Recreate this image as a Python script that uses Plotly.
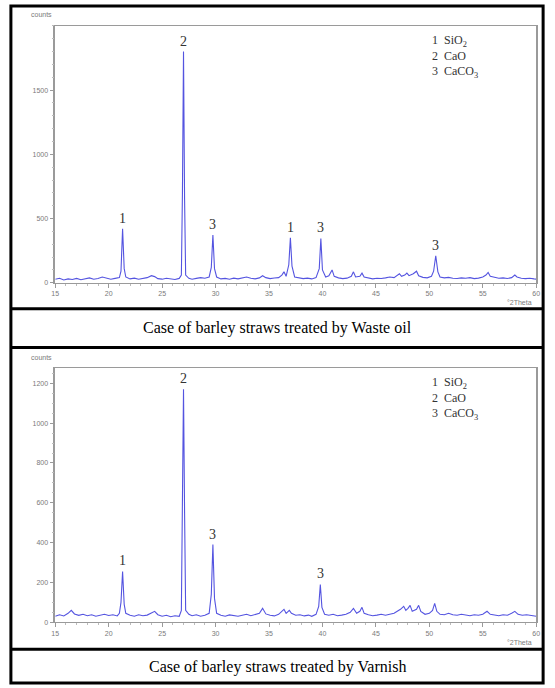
import plotly.graph_objects as go

W, H = 555, 688

# ---------------- data ----------------
theta1 = [15.0, 15.4, 15.8, 16.2, 16.6, 17.0, 17.4, 17.8, 18.2, 18.6, 19.0, 19.4, 19.8, 20.2, 20.6, 21.0,
          21.15, 21.3, 21.45, 21.6, 22.0, 22.4, 22.8, 23.2, 23.6, 24.0, 24.3, 24.6, 25.0, 25.4, 25.8, 26.2,
          26.6, 26.8, 26.9, 27.0, 27.1, 27.2, 27.5, 27.8, 28.2, 28.6, 29.0, 29.4, 29.6, 29.75, 29.9, 30.1,
          30.5, 30.9, 31.3, 31.7, 32.1, 32.5, 32.9, 33.3, 33.7, 34.1, 34.4, 34.7, 35.1, 35.5, 35.9, 36.2,
          36.4, 36.6, 36.85, 37.0, 37.15, 37.4, 37.8, 38.2, 38.6, 39.0, 39.4, 39.7, 39.85, 40.0, 40.3, 40.6,
          40.9, 41.1, 41.5, 41.9, 42.3, 42.7, 42.9, 43.1, 43.5, 43.7, 43.9, 44.3, 44.7, 45.1, 45.5, 45.9,
          46.3, 46.7, 47.0, 47.2, 47.4, 47.7, 47.9, 48.1, 48.5, 48.8, 49.0, 49.4, 49.8, 50.2, 50.4, 50.6,
          50.8, 51.0, 51.4, 51.8, 52.2, 52.6, 53.0, 53.4, 53.8, 54.2, 54.6, 55.0, 55.3, 55.5, 55.7, 56.1,
          56.5, 56.9, 57.3, 57.7, 58.0, 58.2, 58.6, 59.0, 59.4, 59.8, 60.0]
counts1 = [28, 35, 22, 30, 26, 34, 24, 30, 38, 27, 33, 45, 36, 28, 34, 40,
           90, 420, 110, 45, 30, 36, 27, 33, 40, 55, 48, 32, 28, 35, 30, 26,
           34, 60, 700, 1800, 650, 60, 35, 28, 34, 40, 35, 45, 120, 372, 110, 45,
           30, 34, 28, 36, 30, 38, 45, 35, 30, 38, 55, 40, 32, 37, 40, 60,
           85, 50, 140, 350, 130, 45, 38, 32, 36, 30, 40, 110, 345, 100, 45, 55,
           100, 50, 38, 32, 36, 50, 85, 45, 50, 75, 45, 36, 30, 35, 33, 38,
           45, 40, 55, 70, 50, 60, 75, 55, 70, 90, 55, 42, 38, 50, 90, 210,
           85, 45, 38, 42, 35, 33, 38, 35, 40, 32, 36, 45, 60, 80, 50, 40,
           35, 38, 33, 40, 60, 45, 35, 32, 35, 30, 28]

theta2 = [15.0, 15.4, 15.8, 16.2, 16.5, 16.8, 17.2, 17.6, 18.0, 18.4, 18.8, 19.2, 19.6, 20.0, 20.4, 20.8,
          21.0, 21.15, 21.3, 21.45, 21.6, 22.0, 22.4, 22.8, 23.2, 23.6, 24.0, 24.3, 24.6, 25.0, 25.4, 25.8,
          26.2, 26.6, 26.8, 26.9, 27.0, 27.1, 27.2, 27.5, 27.8, 28.2, 28.6, 29.0, 29.4, 29.6, 29.75, 29.9,
          30.1, 30.5, 30.9, 31.3, 31.7, 32.1, 32.5, 32.9, 33.3, 33.7, 34.1, 34.4, 34.7, 35.1, 35.5, 35.9,
          36.2, 36.4, 36.6, 36.9, 37.1, 37.5, 37.9, 38.3, 38.7, 39.0, 39.4, 39.65, 39.8, 39.95, 40.2, 40.6,
          41.0, 41.4, 41.8, 42.2, 42.6, 42.9, 43.2, 43.5, 43.7, 43.9, 44.3, 44.7, 45.1, 45.5, 45.9, 46.3,
          46.7, 47.0, 47.3, 47.6, 47.8, 48.0, 48.2, 48.4, 48.8, 49.0, 49.2, 49.6, 50.0, 50.3, 50.5, 50.7,
          51.0, 51.4, 51.8, 52.2, 52.6, 53.0, 53.4, 53.8, 54.2, 54.6, 55.0, 55.4, 55.7, 56.1, 56.5, 56.9,
          57.3, 57.7, 58.0, 58.3, 58.7, 59.1, 59.5, 60.0]
counts2 = [30, 38, 32, 45, 60, 42, 35, 40, 33, 38, 30, 36, 40, 34, 38, 32,
           45, 100, 255, 90, 45, 35, 30, 38, 33, 36, 45, 55, 38, 30, 35, 28,
           33, 30, 60, 600, 1170, 550, 60, 40, 33, 38, 30, 35, 45, 140, 390, 120,
           45, 35, 30, 37, 32, 30, 35, 40, 33, 38, 45, 70, 42, 35, 32, 40,
           55, 65, 45, 60, 45, 35, 38, 32, 36, 30, 40, 80, 190, 75, 40, 35,
           40, 33, 36, 40, 50, 70, 45, 55, 75, 45, 38, 33, 36, 40, 35, 40,
           45, 55, 65, 80, 60, 70, 85, 55, 65, 85, 55, 40, 45, 60, 95, 55,
           40, 38, 45, 38, 35, 40, 36, 33, 38, 35, 40, 55, 40, 36, 33, 38,
           35, 45, 55, 40, 35, 38, 33, 30]

peaks1_x = [21.3, 27.0, 29.75, 37.0, 39.85, 50.6]
peaks1_lbl = ["1", "2", "3", "1", "3", "3"]
peaks2_x = [21.3, 27.0, 29.75, 39.8]
peaks2_lbl = ["1", "2", "3", "3"]

xticks = [15, 20, 25, 30, 35, 40, 45, 50, 55, 60]
yticks1 = [0, 500, 1000, 1500]
yticks2 = [0, 200, 400, 600, 800, 1000, 1200]

legend_nums = ["1", "2", "3"]
legend_names = ["SiO<sub>2</sub>", "CaO", "CaCO<sub>3</sub>"]

captions = ["Case of barley straws treated by Waste oil",
            "Case of barley straws treated by Varnish"]

# ---------------- helpers ----------------
def px(x):
    return x / W

def py(y):
    return 1 - y / H

LINE = "#5454e0"
AX = "#9a9a9a"
TXT = "#7a7a7a"
SERIF = "Liberation Serif, Times New Roman, serif"

fig = go.Figure()
fig.add_trace(go.Scatter(x=theta1, y=counts1, mode="lines", line=dict(color=LINE, width=1.1),
                         xaxis="x", yaxis="y", showlegend=False, hoverinfo="skip"))
fig.add_trace(go.Scatter(x=theta2, y=counts2, mode="lines", line=dict(color=LINE, width=1.1),
                         xaxis="x2", yaxis="y2", showlegend=False, hoverinfo="skip"))

panels = [
    dict(top=26, bot=284, yrange=[0, 2000], ytv=yticks1, ymin=100),
    dict(top=370, bot=625, yrange=[0, 1275], ytv=yticks2, ymin=50),
]

xdom = [px(52), px(540)]

def xaxis_def(anchor):
    return dict(domain=xdom, range=[15, 60], anchor=anchor, showgrid=False, zeroline=False,
                tickvals=xticks, ticktext=[str(t) for t in xticks], ticks="outside", ticklen=4,
                tickcolor=AX, tickfont=dict(size=7, color=TXT, family="Arial"),
                showline=True, linecolor=AX, linewidth=1, mirror=True,
                minor=dict(dtick=1, ticklen=2, tickcolor="#bbbbbb", ticks="outside"))

def yaxis_def(p, anchor):
    return dict(domain=[py(p["bot"]), py(p["top"])], range=p["yrange"], anchor=anchor,
                showgrid=False, zeroline=False, tickvals=p["ytv"],
                ticktext=[str(t) for t in p["ytv"]], ticks="outside", ticklen=4,
                tickcolor=AX, tickfont=dict(size=7, color=TXT, family="Arial"),
                showline=True, linecolor=AX, linewidth=1.5, mirror=True,
                minor=dict(dtick=p["ymin"], ticklen=2, tickcolor="#bbbbbb", ticks="outside"))

fig.update_layout(
    width=W, height=H, margin=dict(l=0, r=0, t=0, b=0),
    paper_bgcolor="white", plot_bgcolor="white",
    xaxis=xaxis_def("y"), yaxis=yaxis_def(panels[0], "x"),
    xaxis2=xaxis_def("y2"), yaxis2=yaxis_def(panels[1], "x2"),
)

ann = []
# peak labels
for xs, lbls, th, ct, xr, yr in [(peaks1_x, peaks1_lbl, theta1, counts1, "x", "y"),
                                 (peaks2_x, peaks2_lbl, theta2, counts2, "x2", "y2")]:
    for xv, lb in zip(xs, lbls):
        i = min(range(len(th)), key=lambda k: abs(th[k] - xv))
        ann.append(dict(x=th[i], y=ct[i], xref=xr, yref=yr, text=lb, showarrow=False,
                        yanchor="bottom", yshift=1, font=dict(family=SERIF, size=14, color="#333333")))

# legends
leg_text = "<br>".join(f"{n}&nbsp;&nbsp;{s}" for n, s in zip(legend_nums, legend_names))
for p in panels:
    ann.append(dict(x=px(432), y=py(p["top"] + 5), xref="paper", yref="paper", text=leg_text,
                    showarrow=False, xanchor="left", yanchor="top", align="left",
                    font=dict(family=SERIF, size=12, color="#333333")))
    ann.append(dict(x=px(38), y=py(p["top"] - 11), xref="paper", yref="paper", text="counts",
                    showarrow=False, xanchor="center", yanchor="middle",
                    font=dict(family="Arial", size=7, color=TXT)))
    ann.append(dict(x=px(538), y=py(p["bot"] + 20), xref="paper", yref="paper", text="°2Theta",
                    showarrow=False, xanchor="right", yanchor="middle",
                    font=dict(family="Arial", size=7, color=TXT)))

# captions
for cap, cy in zip(captions, [329, 670]):
    ann.append(dict(x=px(277), y=py(cy), xref="paper", yref="paper", text=cap, showarrow=False,
                    xanchor="center", yanchor="middle",
                    font=dict(family=SERIF, size=16, color="#000000")))

# table borders
shapes = [dict(type="rect", xref="paper", yref="paper", x0=px(7), x1=px(547), y0=py(686), y1=py(6),
               line=dict(color="black", width=3))]
for yl in [310, 349, 652]:
    shapes.append(dict(type="line", xref="paper", yref="paper", x0=px(7), x1=px(547),
                       y0=py(yl), y1=py(yl), line=dict(color="black", width=3)))

fig.update_layout(annotations=ann, shapes=shapes)
fig.write_html("out.html")
